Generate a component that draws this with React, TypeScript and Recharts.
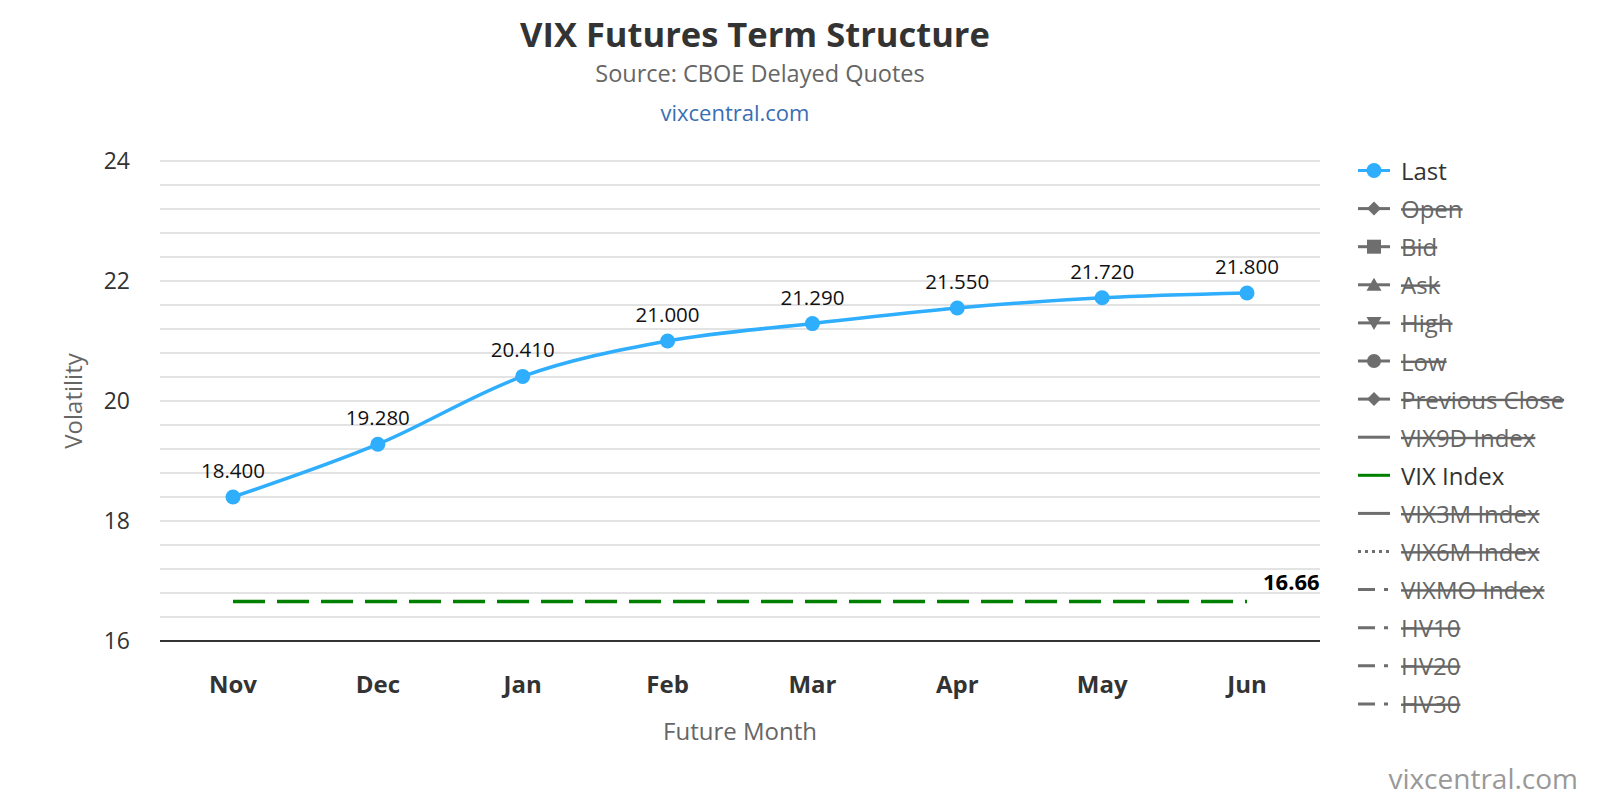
import React from 'react';
import { LineChart, Line, XAxis, YAxis, CartesianGrid, Legend, LabelList } from 'recharts';

const months = ['Nov', 'Dec', 'Jan', 'Feb', 'Mar', 'Apr', 'May', 'Jun'];
const lastValues = [18.4, 19.28, 20.41, 21.0, 21.29, 21.55, 21.72, 21.8];
const vixIndexValues = [16.66, 16.66, 16.66, 16.66, 16.66, 16.66, 16.66, 16.66];
const yTicks = [16, 16.4, 16.8, 17.2, 17.6, 18, 18.4, 18.8, 19.2, 19.6, 20, 20.4, 20.8, 21.2, 21.6, 22, 22.4, 22.8, 23.2, 23.6, 24];
const yLabelTicks = [16, 18, 20, 22, 24];
const legendNames = ['Last', 'Open', 'Bid', 'Ask', 'High', 'Low', 'Previous Close', 'VIX9D Index', 'VIX Index', 'VIX3M Index', 'VIX6M Index', 'VIXMO Index', 'HV10', 'HV20', 'HV30'];
const legendSymbols = ['circle', 'diamond', 'square', 'triangle', 'triangle-down', 'circle', 'diamond', 'line', 'line', 'line', 'dotted', 'dashdot', 'dashdot', 'dashdot', 'dashdot'];
const legendVisible = [true, false, false, false, false, false, false, false, true, false, false, false, false, false, false];
const legendColors = ['#2eaefc', '#6e6e6e', '#6e6e6e', '#6e6e6e', '#6e6e6e', '#6e6e6e', '#6e6e6e', '#6e6e6e', '#008000', '#6e6e6e', '#6e6e6e', '#6e6e6e', '#6e6e6e', '#6e6e6e', '#6e6e6e'];

const data = months.map((m, i) => ({ month: m, last: lastValues[i], vix: vixIndexValues[i] }));

const FONT = '"Open Sans", "Noto Sans", sans-serif';
const LAST_COLOR = '#2eaefc';
const VIX_COLOR = '#008000';

const renderLegend = () => {
  const rowH = 38.1;
  return (
    <svg width={280} height={590} style={{ display: 'block', overflow: 'visible' }}>
      {legendNames.map((name, i) => {
        const cy = 20.5 + i * rowH;
        const color = legendColors[i];
        const sym = legendSymbols[i];
        const x0 = 38;
        const x1 = 70;
        const cx = (x0 + x1) / 2;
        let line: React.ReactNode = null;
        if (sym === 'dotted') {
          line = <line x1={x0} x2={x1} y1={cy} y2={cy} stroke={color} strokeWidth={3} strokeDasharray="3 4" />;
        } else if (sym === 'dashdot') {
          line = <line x1={x0} x2={x1} y1={cy} y2={cy} stroke={color} strokeWidth={3} strokeDasharray="17 9 4 8" />;
        } else {
          line = <line x1={x0} x2={x1} y1={cy} y2={cy} stroke={color} strokeWidth={3} />;
        }
        let marker: React.ReactNode = null;
        if (sym === 'circle') marker = <circle cx={cx} cy={cy} r={i === 0 ? 7.5 : 7} fill={color} />;
        if (sym === 'diamond') marker = <path d={`M${cx} ${cy - 7} L${cx + 7} ${cy} L${cx} ${cy + 7} L${cx - 7} ${cy} Z`} fill={color} />;
        if (sym === 'square') marker = <rect x={cx - 7} y={cy - 7} width={14} height={14} fill={color} />;
        if (sym === 'triangle') marker = <path d={`M${cx} ${cy - 7} L${cx + 7.5} ${cy + 6} L${cx - 7.5} ${cy + 6} Z`} fill={color} />;
        if (sym === 'triangle-down') marker = <path d={`M${cx} ${cy + 7} L${cx + 7.5} ${cy - 6} L${cx - 7.5} ${cy - 6} Z`} fill={color} />;
        return (
          <g key={name}>
            {line}
            {marker}
            <text
              x={81}
              y={cy}
              dominantBaseline="central"
              fontFamily={FONT}
              fontSize={24}
              fill={legendVisible[i] ? '#333333' : '#666666'}
              textDecoration={legendVisible[i] ? undefined : 'line-through'}
            >
              {name}
            </text>
          </g>
        );
      })}
    </svg>
  );
};

const renderYLabel = (props: any) => {
  const vb = props.viewBox || { x: 0, y: 161, width: 160, height: 480 };
  const x = vb.x + 72;
  const y = vb.y + vb.height / 2;
  return (
    <text
      x={x}
      y={y}
      transform={`rotate(-90 ${x} ${y})`}
      textAnchor="middle"
      dominantBaseline="central"
      fontFamily={FONT}
      fontSize={24}
      fill="#666666"
    >
      Volatility
    </text>
  );
};

const renderXLabel = (props: any) => {
  const vb = props.viewBox || { x: 160, y: 641, width: 1160, height: 110 };
  return (
    <text
      x={vb.x + vb.width / 2}
      y={vb.y + 99}
      textAnchor="middle"
      fontFamily={FONT}
      fontSize={24}
      fill="#666666"
    >
      Future Month
    </text>
  );
};

const renderVixLabel = (props: any) => {
  const { x, y, index, value } = props;
  if (index !== vixIndexValues.length - 1) return null;
  return (
    <text x={x + 16} y={y - 11} fontFamily={FONT} fontSize={22} fontWeight="bold" fill="#000000">
      {Number(value).toFixed(2)}
    </text>
  );
};

export default function App() {
  return (
    <div style={{ position: 'absolute', left: 0, top: 0, width: 1600, height: 800, background: '#ffffff', fontFamily: FONT }}>
      <LineChart
        width={1600}
        height={800}
        data={data}
        margin={{ top: 161, right: 0, bottom: 49, left: 0 }}
      >
        <CartesianGrid vertical={false} stroke="#e3e3e3" strokeWidth={2} />
        <XAxis
          dataKey="month"
          height={110}
          padding={{ left: 73, right: 73 }}
          tickLine={false}
          tickSize={6}
          tickMargin={29}
          axisLine={{ stroke: '#333333', strokeWidth: 2 }}
          tick={{ fontFamily: FONT, fontSize: 24, fontWeight: 'bold', fill: '#333333' }}
          interval={0}
          label={renderXLabel}
        />
        <YAxis
          type="number"
          domain={[16, 24]}
          ticks={yTicks}
          interval={0}
          width={160}
          tickLine={false}
          axisLine={false}
          tickSize={6}
          tickMargin={24}
          tick={{ fontFamily: FONT, fontSize: 23, fill: '#333333' }}
          tickFormatter={(v: number) => (yLabelTicks.includes(v) ? String(v) : '')}
          label={renderYLabel}
        />
        <Legend
          layout="vertical"
          align="right"
          verticalAlign="top"
          width={280}
          height={590}
          content={renderLegend}
          wrapperStyle={{ left: 1320, top: 150, right: 'auto', width: 280, height: 590 }}
        />
        <Line
          type="linear"
          dataKey="vix"
          name="VIX Index"
          stroke={VIX_COLOR}
          strokeWidth={3.5}
          strokeDasharray="32 12"
          dot={false}
          activeDot={false}
          isAnimationActive={false}
        >
          <LabelList dataKey="vix" content={renderVixLabel} />
        </Line>
        <Line
          type="monotone"
          dataKey="last"
          name="Last"
          stroke={LAST_COLOR}
          strokeWidth={3.5}
          dot={{ r: 7.5, fill: LAST_COLOR, stroke: LAST_COLOR, strokeWidth: 0 }}
          activeDot={false}
          isAnimationActive={false}
        >
          <LabelList
            dataKey="last"
            position="top"
            offset={19}
            formatter={(v: number) => Number(v).toFixed(3)}
            style={{ fontFamily: FONT, fontSize: 20.5, fill: '#111111' }}
          />
        </Line>
      </LineChart>
      <svg width={1600} height={800} style={{ position: 'absolute', left: 0, top: 0, pointerEvents: 'none' }}>
        <text x={755} y={47} textAnchor="middle" fontFamily={FONT} fontSize={34.5} fontWeight="bold" fill="#333333">
          VIX Futures Term Structure
        </text>
        <text x={760} y={82} textAnchor="middle" fontFamily={FONT} fontSize={23.5} fill="#666666">
          Source: CBOE Delayed Quotes
        </text>
        <text x={735} y={121} textAnchor="middle" fontFamily={FONT} fontSize={22} fill="#3a6eb4">
          vixcentral.com
        </text>
        <text x={1578} y={789} textAnchor="end" fontFamily={FONT} fontSize={28} fill="#999999">
          vixcentral.com
        </text>
      </svg>
    </div>
  );
}
